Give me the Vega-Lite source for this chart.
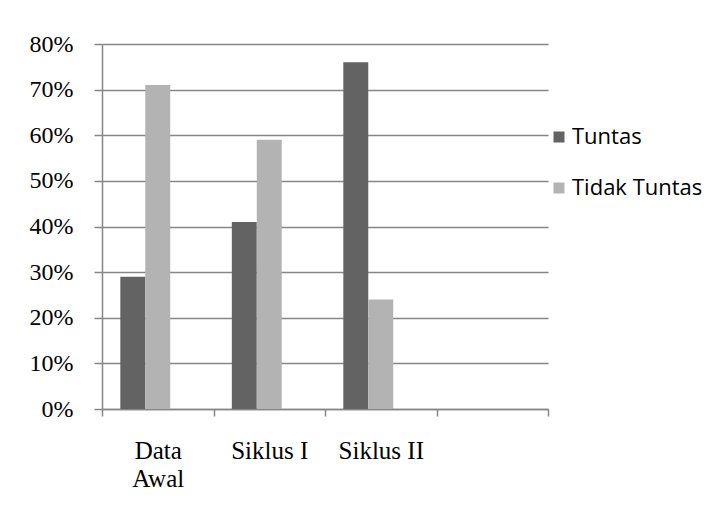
{
  "$schema": "https://vega.github.io/schema/vega-lite/v6.json",
  "width": 446,
  "height": 365,
  "autosize": {"type": "none"},
  "padding": {"left": 102, "top": 44, "right": 165, "bottom": 105},
  "background": "white",
  "data": {
    "values": [
      {"tahap": "Data Awal", "kategori": "Tuntas", "persen": 0.29},
      {"tahap": "Data Awal", "kategori": "Tidak Tuntas", "persen": 0.71},
      {"tahap": "Siklus I", "kategori": "Tuntas", "persen": 0.41},
      {"tahap": "Siklus I", "kategori": "Tidak Tuntas", "persen": 0.59},
      {"tahap": "Siklus II", "kategori": "Tuntas", "persen": 0.76},
      {"tahap": "Siklus II", "kategori": "Tidak Tuntas", "persen": 0.24}
    ]
  },
  "mark": {"type": "bar"},
  "encoding": {
    "x": {
      "field": "tahap",
      "type": "nominal",
      "sort": null,
      "scale": {
        "domain": ["Data Awal", "Siklus I", "Siklus II", " "],
        "paddingInner": 0,
        "paddingOuter": 0
      },
      "axis": {
        "title": null,
        "labelAngle": 0,
        "labelFont": "Liberation Serif",
        "labelFontSize": 25,
        "labelColor": "#000000",
        "labelBaseline": "top",
        "labelPadding": 22,
        "labelLineHeight": 28,
        "labelExpr": "datum.value == 'Data Awal' ? ['Data', 'Awal'] : datum.value",
        "tickBand": "extent",
        "tickSize": 7,
        "tickColor": "#868686",
        "tickWidth": 1.5,
        "domainColor": "#868686",
        "domainWidth": 1.5,
        "grid": false
      }
    },
    "xOffset": {
      "field": "kategori",
      "type": "nominal",
      "scale": {
        "domain": ["Tuntas", "Tidak Tuntas", "lainnya"],
        "paddingInner": 0,
        "paddingOuter": 0.734
      }
    },
    "y": {
      "field": "persen",
      "type": "quantitative",
      "scale": {"domain": [0, 0.8], "nice": false},
      "axis": {
        "title": null,
        "format": ".0%",
        "values": [0, 0.1, 0.2, 0.3, 0.4, 0.5, 0.6, 0.7, 0.8],
        "labelFont": "Liberation Serif",
        "labelFontSize": 24,
        "labelColor": "#000000",
        "labelPadding": 21,
        "tickSize": 8,
        "tickColor": "#868686",
        "tickWidth": 1.5,
        "domainColor": "#868686",
        "domainWidth": 1.5,
        "grid": true,
        "gridColor": "#868686",
        "gridWidth": 1.5
      }
    },
    "color": {
      "field": "kategori",
      "type": "nominal",
      "scale": {
        "domain": ["Tuntas", "Tidak Tuntas"],
        "range": ["#636363", "#b3b3b3"]
      },
      "legend": {
        "title": null,
        "orient": "none",
        "legendX": 446,
        "legendY": 82,
        "padding": 0,
        "symbolType": "square",
        "symbolSize": 121,
        "symbolStrokeWidth": 0,
        "labelFont": "Open Sans",
        "labelFontSize": 22,
        "labelColor": "#000000",
        "labelOffset": 2,
        "rowPadding": 29
      }
    }
  },
  "config": {
    "view": {"stroke": null}
  }
}
